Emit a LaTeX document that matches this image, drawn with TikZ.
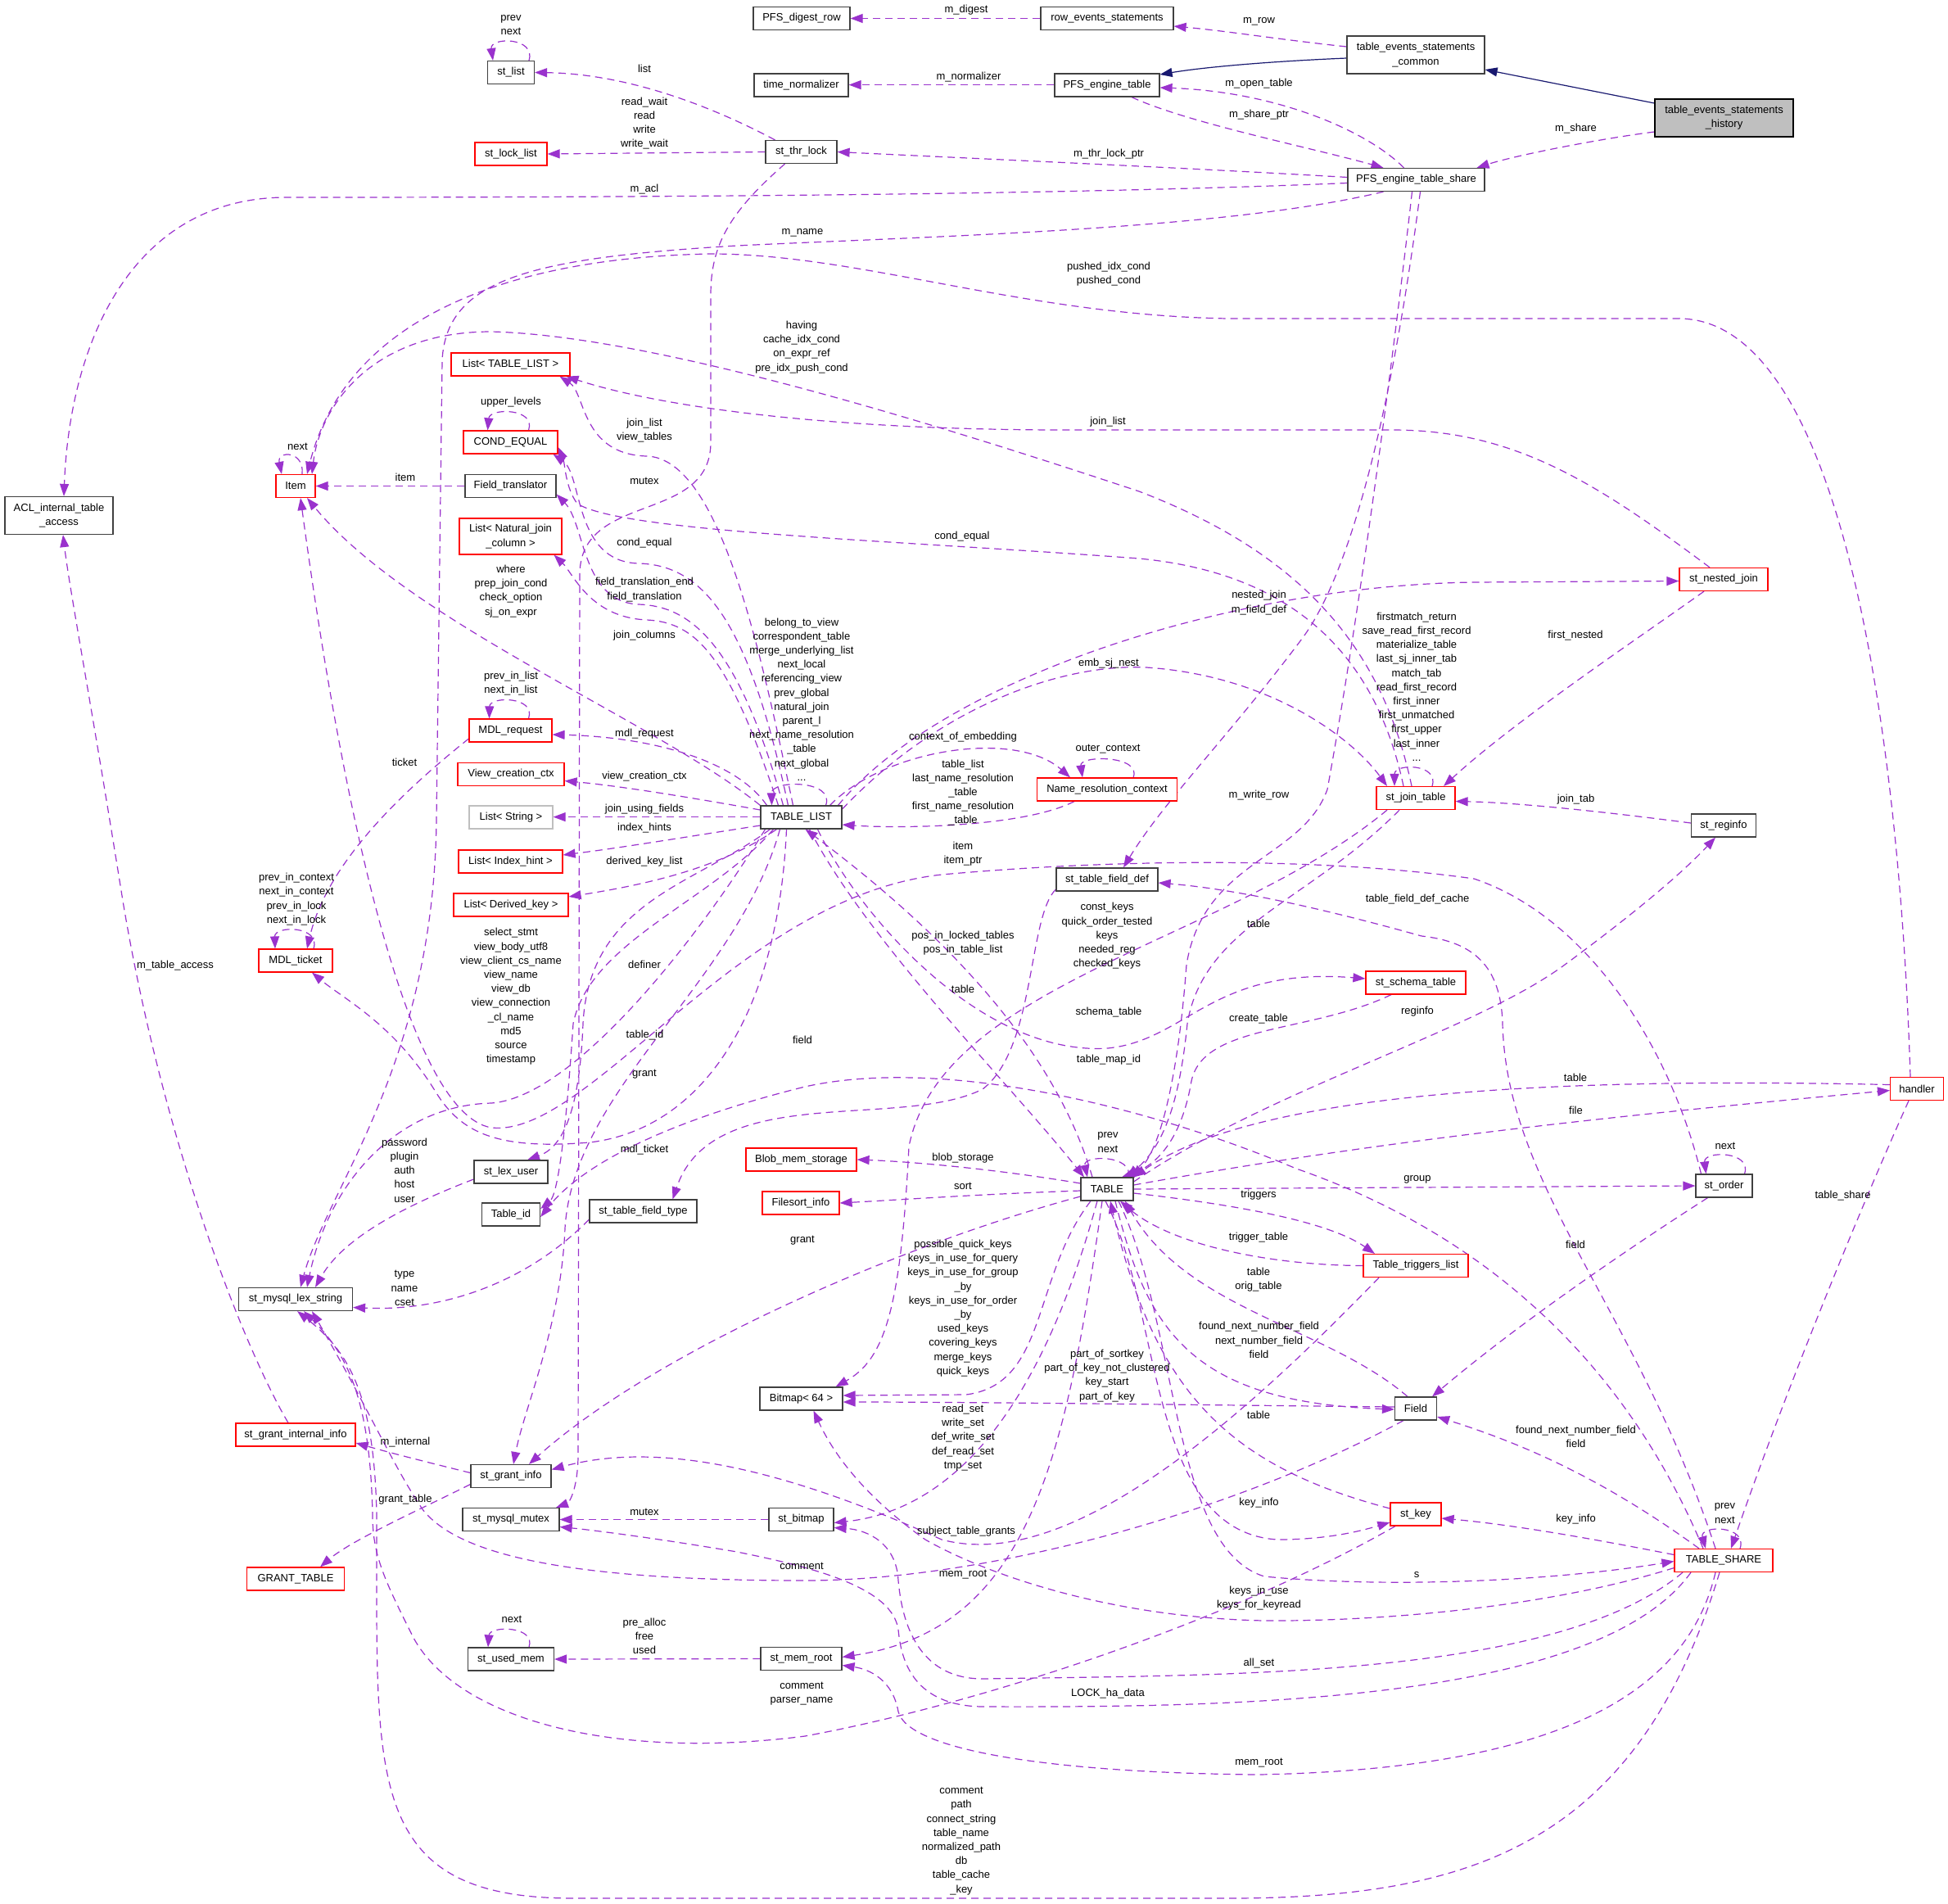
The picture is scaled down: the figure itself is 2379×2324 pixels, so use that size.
\documentclass[tikz,border=0pt]{standalone}
\usepackage{fontspec}
\setmainfont{Liberation Sans}
\usetikzlibrary{arrows.meta,backgrounds}
\definecolor{purp}{RGB}{154,50,205}
\definecolor{inhblue}{RGB}{25,25,112}
\definecolor{nodegray}{RGB}{64,64,64}
\definecolor{nodered}{RGB}{255,0,0}
\definecolor{lightgr}{RGB}{191,191,191}
\definecolor{histfill}{RGB}{191,191,191}
\newcommand\labfont{\fontsize{13}{17.2}\selectfont}
\tikzset{
  box/.style={draw=nodegray, line width=1.2pt, fill=white, minimum height=28pt, inner sep=2pt, font=\labfont},
  rbox/.style={box, draw=nodered},
  gbox/.style={box, draw=lightgr},
  ed/.style={draw=purp, line width=1.2pt, dash pattern=on 9pt off 6pt, -{Triangle[length=15pt,width=11pt]}},
  inh/.style={draw=inhblue, line width=1.2pt, -{Triangle[length=15pt,width=11pt]}},
  lbl/.style={font=\labfont, align=center, inner sep=0pt},
}
\begin{document}
\begin{tikzpicture}[x=1pt,y=-1pt]
\useasboundingbox (0,0) rectangle (2379,2324);
\begin{pgfonlayer}{background}
\fill[white] (0,0) rectangle (2379,2324);
\end{pgfonlayer}
% ---------------- nodes
\node[box,minimum width=118pt] (digest) at (979,22.5) {PFS\_digest\_row};
\node[box,minimum width=162pt] (rowev) at (1352,22.5) {row\_events\_statements};
\node[box,minimum width=168pt,minimum height=46pt,align=center] (common) at (1729,67) {table\_events\_statements\\\_common};
\node[box,fill=histfill,draw=black,minimum width=169pt,minimum height=46pt,align=center] (history) at (2105.5,144) {table\_events\_statements\\\_history};
\node[box,minimum width=115pt] (timenorm) at (978.5,104) {time\_normalizer};
\node[box,minimum width=128pt] (PFSet) at (1352,104) {PFS\_engine\_table};
\node[box,minimum width=57pt] (stlist) at (624,88.5) {st\_list};
\node[rbox,minimum width=88pt] (locklist) at (624,188) {st\_lock\_list};
\node[box,minimum width=87pt] (thrlock) at (978.5,185.5) {st\_thr\_lock};
\node[box,minimum width=167pt] (share) at (1729.5,219.5) {PFS\_engine\_table\_share};
\node[box,minimum width=132pt,minimum height=46pt,align=center] (ACL) at (72,629.5) {ACL\_internal\_table\\\_access};
\node[rbox,minimum width=48pt] (Item) at (361,593.5) {Item};
\node[rbox,minimum width=145pt] (ListTL) at (623.5,445) {List< TABLE\_LIST >};
\node[rbox,minimum width=115pt] (condeq) at (623.5,540) {COND\_EQUAL};
\node[box,minimum width=111pt] (fieldtr) at (623.5,593.5) {Field\_translator};
\node[rbox,minimum width=125pt,minimum height=44pt,align=center] (listnat) at (623.5,655) {List< Natural\_join\\\_column >};
\node[rbox,minimum width=101pt] (mdlreq) at (623.5,892) {MDL\_request};
\node[rbox,minimum width=130pt] (viewctx) at (624,945.5) {View\_creation\_ctx};
\node[gbox,minimum width=102pt] (liststr) at (624,998) {List< String >};
\node[rbox,minimum width=127pt] (listidx) at (623.5,1052) {List< Index\_hint >};
\node[rbox,minimum width=140pt] (listdk) at (624,1105) {List< Derived\_key >};
\node[rbox,minimum width=90pt] (mdlticket) at (361,1173) {MDL\_ticket};
\node[box,minimum width=99pt] (TL) at (978.5,998) {TABLE\_LIST};
\node[rbox,minimum width=171pt] (NRC) at (1352,964) {Name\_resolution\_context};
\node[rbox,minimum width=96pt] (jointab) at (1729,974.5) {st\_join\_table};
\node[rbox,minimum width=108pt] (nested) at (2105,707.5) {st\_nested\_join};
\node[box,minimum width=79pt] (reginfo) at (2105,1008) {st\_reginfo};
\node[box,minimum width=124pt] (tfdef) at (1352,1074) {st\_table\_field\_def};
\node[rbox,minimum width=122pt] (schema) at (1729,1200) {st\_schema\_table};
\node[rbox,minimum width=65pt] (handler) at (2341,1329.5) {handler};
\node[box,minimum width=90pt] (lexuser) at (624,1431) {st\_lex\_user};
\node[box,minimum width=71pt] (tableid) at (624,1483) {Table\_id};
\node[box,minimum width=131pt] (tftype) at (785.5,1479) {st\_table\_field\_type};
\node[rbox,minimum width=135pt] (blob) at (978.5,1416) {Blob\_mem\_storage};
\node[rbox,minimum width=94pt] (filesort) at (978,1469) {Filesort\_info};
\node[box,minimum width=64pt] (TABLE) at (1352,1452) {TABLE};
\node[box,minimum width=69pt] (order) at (2105.5,1448) {st\_order};
\node[rbox,minimum width=128pt] (TTL) at (1729,1545.5) {Table\_triggers\_list};
\node[box,minimum width=139pt] (lexstr) at (361,1586.5) {st\_mysql\_lex\_string};
\node[box,minimum width=101pt] (bitmap64) at (978.5,1708) {Bitmap< 64 >};
\node[box,minimum width=51pt] (Field) at (1729,1720) {Field};
\node[rbox,minimum width=146pt] (ginternal) at (361,1752) {st\_grant\_internal\_info};
\node[box,minimum width=98pt] (ginfo) at (624,1802.5) {st\_grant\_info};
\node[box,minimum width=118pt] (mutex) at (624,1855.5) {st\_mysql\_mutex};
\node[box,minimum width=79pt] (stbitmap) at (978.5,1855.5) {st\_bitmap};
\node[rbox,minimum width=119pt] (granttable) at (361,1928) {GRANT\_TABLE};
\node[rbox,minimum width=62pt] (stkey) at (1729,1849) {st\_key};
\node[rbox,minimum width=120pt] (TS) at (2105,1905.5) {TABLE\_SHARE};
\node[box,minimum width=105pt] (usedmem) at (624,2026) {st\_used\_mem};
\node[box,minimum width=99pt] (memroot) at (978.5,2025.5) {st\_mem\_root};
% ---------------- edges
\begin{pgfonlayer}{background}
\draw[ed] (rowev.west) -- (digest.east);
\draw[ed] ([yshift=10pt]common.west) .. controls (1560,48) and (1500,38) .. ([yshift=-9.5pt]rowev.east);
\draw[inh] ([yshift=-4pt]common.west) .. controls (1550,75) and (1470,82) .. ([yshift=13pt]PFSet.east);
\draw[inh] ([yshift=18pt]history.west) -- ([yshift=-18pt]common.east);
\draw[ed] ([yshift=-17pt]history.west) .. controls (1950,170) and (1850,190) .. ([xshift=74pt]share.north);
\draw[ed] ([yshift=0.4pt]PFSet.west) -- ([yshift=0.4pt]timenorm.east);
\draw[ed] ([xshift=-15pt]share.north) .. controls (1670,160) and (1560,112) .. ([yshift=-3pt]PFSet.east);
\draw[ed] ([xshift=30pt]PFSet.south) .. controls (1450,150) and (1600,180) .. ([xshift=-40pt]share.north);
\draw[ed] ([xshift=22pt]stlist.north) .. controls (655,45) and (598,45) .. ([xshift=-22pt]stlist.north);
\draw[ed] ([xshift=-32pt]thrlock.north) .. controls (860,125) and (760,90) .. (stlist.east);
\draw[ed] (thrlock.west) -- (locklist.east);
\draw[ed] ([yshift=3pt]share.west) .. controls (1450,205) and (1200,194) .. (thrlock.east);
\draw[ed] ([yshift=-4pt]share.west) .. controls (1300,238) and (800,241) .. (350,241) .. controls (160,241) and (85,420) .. ([xshift=6pt]ACL.north);
\draw[ed] ([xshift=-40pt]share.south) .. controls (1500,280) and (1150,288) .. (900,300) .. controls (650,315) and (545,340) .. (540,440) -- (533,1000) .. controls (530,1300) and (400,1450) .. ([xshift=6pt]lexstr.north);
\draw[ed] ([xshift=-8pt]handler.north) .. controls (2320,900) and (2250,389) .. (2050,389) -- (1500,389) .. controls (1250,385) and (1050,310) .. (868,310) .. controls (600,315) and (420,400) .. ([xshift=14pt]Item.north);
\draw[ed] ([xshift=-5pt]jointab.north) .. controls (1690,800) and (1600,680) .. (1391,600) .. controls (1150,520) and (800,410) .. (600,405) .. controls (450,405) and (390,500) .. ([xshift=20pt]Item.north);
\draw[ed] ([xshift=-10pt]TL.north) .. controls (930,800) and (880,560) .. (790,557) .. controls (710,555) and (715,480) .. ([xshift=60pt]ListTL.south);
\draw[ed] ([xshift=-17pt]nested.north) .. controls (1950,590) and (1850,525) .. (1700,525) -- (1300,525) .. controls (1000,525) and (800,495) .. ([xshift=68pt]ListTL.south);
\draw[ed] ([xshift=-16pt]TL.north) .. controls (915,760) and (860,690) .. (780,688) .. controls (700,686) and (712,580) .. ([xshift=52pt]condeq.south);
\draw[ed] ([xshift=-15pt]jointab.north) .. controls (1680,800) and (1580,700) .. (1391,682) .. controls (1100,660) and (760,650) .. (705,615) .. controls (690,595) and (690,565) .. ([yshift=-6pt]condeq.east);
\draw[ed] ([xshift=-22pt]TL.north) .. controls (900,780) and (840,740) .. (780,738) .. controls (710,735) and (715,640) .. ([yshift=-10pt]fieldtr.east);
\draw[ed] ([xshift=-28pt]TL.north) .. controls (890,800) and (850,760) .. (790,757) .. controls (720,754) and (700,700) .. ([xshift=53pt]listnat.south);
\draw[ed] (TL.north west) .. controls (800,880) and (500,760) .. ([xshift=14pt]Item.south);
\draw[ed] (fieldtr.west) -- (Item.east);
\draw[ed] ([xshift=8pt]Item.north) .. controls (372,550) and (338,550) .. ([xshift=-17pt]Item.north);
\draw[ed] ([xshift=22pt]condeq.north) .. controls (655,498) and (598,498) .. ([xshift=-28pt]condeq.north);
\draw[ed] ([xshift=22pt]mdlreq.north) .. controls (655,850) and (598,850) .. ([xshift=-26pt]mdlreq.north);
\draw[ed] ([xshift=-42pt]TL.north) .. controls (900,930) and (800,900) .. ([yshift=-5pt]mdlreq.east);
\draw[ed] ([yshift=9pt]TL.west) .. controls (850,975) and (760,960) .. ([yshift=-8pt]viewctx.east);
\draw[ed] ([yshift=0.4pt]TL.west) -- ([yshift=0.4pt]liststr.east);
\draw[ed] ([yshift=-10pt]TL.west) .. controls (850,1020) and (760,1035) .. ([yshift=8pt]listidx.east);
\draw[ed] ([xshift=-30pt]TL.south) .. controls (880,1060) and (790,1080) .. ([yshift=10pt]listdk.east);
\draw[ed] ([xshift=30pt]TL.north) .. controls (1020,952) and (942,952) .. ([xshift=-36pt]TL.north);
\draw[ed] ([xshift=35pt]TL.north) .. controls (1080,915) and (1240,890) .. ([xshift=-45pt]NRC.north);
\draw[ed] ([xshift=32pt]NRC.north) .. controls (1395,922) and (1318,922) .. ([xshift=-30pt]NRC.north);
\draw[ed] ([xshift=-40pt]NRC.south) .. controls (1250,1010) and (1100,1012) .. ([yshift=-9pt]TL.east);
\draw[ed] ([xshift=45pt]TL.north) .. controls (1150,830) and (1500,715) .. (1800,711) -- ([yshift=-2pt]nested.west);
\draw[ed] ([yshift=10pt]TL.east) .. controls (1150,860) and (1300,810) .. (1400,815) .. controls (1550,825) and (1650,900) .. ([xshift=-35pt]jointab.north);
\draw[ed] ([xshift=20pt]jointab.north) .. controls (1758,932) and (1703,932) .. ([xshift=-26pt]jointab.north);
\draw[ed] ([xshift=-24pt]nested.south) .. controls (2000,780) and (1850,880) .. ([xshift=34pt]jointab.north);
\draw[ed] ([yshift=3pt]reginfo.west) .. controls (1950,990) and (1850,980) .. ([yshift=-4pt]jointab.east);
\draw[ed] ([xshift=-5pt]share.south) .. controls (1700,450) and (1660,750) .. (1621,964) .. controls (1590,1050) and (1470,1050) .. (1449,1178) .. controls (1440,1300) and (1420,1400) .. ([xshift=30pt]TABLE.north);
\draw[ed] ([xshift=5pt]share.south) .. controls (1700,500) and (1650,700) .. (1590,780) .. controls (1500,900) and (1420,980) .. ([xshift=20pt]tfdef.north);
\draw[ed] ([xshift=-20pt]jointab.south) .. controls (1600,1100) and (1470,1130) .. (1450,1250) .. controls (1440,1350) and (1420,1400) .. ([xshift=24pt]TABLE.north);
\draw[ed] ([xshift=-35pt]jointab.south) .. controls (1500,1150) and (1150,1200) .. (1110,1400) .. controls (1100,1600) and (1080,1660) .. ([xshift=42pt]bitmap64.north);
\draw[ed] ([xshift=20pt]TL.south) .. controls (1050,1120) and (1200,1290) .. (1353,1280) .. controls (1450,1270) and (1480,1180) .. ([yshift=5pt]schema.west);
\draw[ed] ([xshift=-30pt]schema.south) .. controls (1600,1262) and (1470,1250) .. (1455,1320) .. controls (1445,1380) and (1420,1420) .. ([xshift=18pt]TABLE.north);
\draw[ed] ([xshift=10pt]TL.south) .. controls (1060,1150) and (1230,1320) .. ([xshift=-28pt]TABLE.north);
\draw[ed] ([xshift=-18pt]TABLE.north) .. controls (1280,1250) and (1100,1100) .. ([xshift=5pt]TL.south);
\draw[ed] ([xshift=26pt]TABLE.north) .. controls (1385,1410) and (1322,1410) .. ([xshift=-24pt]TABLE.north);
\draw[ed] ([yshift=5pt]handler.west) .. controls (2000,1318) and (1550,1320) .. (TABLE.north east);
\draw[ed] ([yshift=5pt]TABLE.east) .. controls (1700,1390) and (2000,1360) .. ([yshift=-2pt]handler.west);
\draw[ed] ([yshift=9pt]TABLE.east) .. controls (1550,1330) and (1800,1260) .. (1911,1178) .. controls (2010,1105) and (2060,1060) .. ([xshift=-10pt]reginfo.south);
\draw[ed] (TABLE.east) -- (order.west);
\draw[ed] ([yshift=-5pt]TABLE.east) .. controls (1500,1470) and (1620,1490) .. ([xshift=-50pt]TTL.north);
\draw[ed] (TTL.west) .. controls (1550,1545) and (1430,1520) .. ([xshift=16pt]TABLE.south);
\draw[ed] ([xshift=-45pt]TTL.south) .. controls (1500,1750) and (1300,1920) .. (1150,1880) .. controls (950,1790) and (800,1760) .. ([yshift=8pt]ginfo.east);
\draw[ed] ([yshift=7pt]TABLE.west) .. controls (1200,1425) and (1100,1418) .. (blob.east);
\draw[ed] ([yshift=-2pt]TABLE.west) .. controls (1200,1458) and (1100,1465) .. (filesort.east);
\draw[ed] ([yshift=-9pt]TABLE.west) .. controls (1100,1520) and (800,1650) .. ([xshift=22pt]ginfo.north);
\draw[ed] ([xshift=-20pt]TABLE.south) .. controls (1260,1560) and (1280,1690) .. (1180,1703) -- ([yshift=4pt]bitmap64.east);
\draw[ed] ([xshift=-12pt]TABLE.south) .. controls (1290,1650) and (1200,1840) .. ([yshift=-4pt]stbitmap.east);
\draw[ed] ([xshift=-6pt]TABLE.south) .. controls (1300,1800) and (1250,1990) .. ([yshift=2pt]memroot.east);
\draw[ed] ([xshift=-10pt]Field.north) .. controls (1620,1620) and (1450,1600) .. ([xshift=22pt]TABLE.south);
\draw[ed] ([xshift=10pt]TABLE.south) .. controls (1400,1620) and (1450,1712) .. ([yshift=-1pt]Field.west);
\draw[ed] ([yshift=2pt]Field.west) .. controls (1500,1716) and (1200,1712) .. ([yshift=-4pt]bitmap64.east);
\draw[ed] ([yshift=7pt]stkey.west) .. controls (1500,1790) and (1410,1700) .. ([xshift=4pt]TABLE.south);
\draw[ed] ([xshift=-2pt]TABLE.south) .. controls (1420,1600) and (1400,1870) .. (1560,1880) .. controls (1620,1880) and (1660,1870) .. ([yshift=-10pt]stkey.west);
\draw[ed] ([xshift=-15pt]Field.south) .. controls (1500,1850) and (1200,1930) .. (983,1930) .. controls (700,1930) and (560,1900) .. (516,1843) .. controls (480,1790) and (450,1720) .. ([xshift=20pt]lexstr.south);
\draw[ed] ([xshift=-25pt]stkey.south) .. controls (1500,1980) and (1200,2080) .. (983,2120) .. controls (750,2150) and (560,2100) .. (505,2000) .. controls (470,1930) and (455,1900) .. (455,1850) .. controls (452,1700) and (420,1650) .. ([xshift=10pt]lexstr.south);
\draw[ed] ([xshift=-5pt]TS.south) .. controls (2000,2250) and (1800,2318) .. (1500,2318) -- (700,2318) .. controls (470,2318) and (460,2200) .. (460,1950) -- (460,1850) .. controls (457,1700) and (425,1650) .. ([xshift=2pt]lexstr.south);
\draw[ed] ([yshift=7pt]TS.west) .. controls (1950,1880) and (1850,1862) .. ([yshift=-5pt]stkey.east);
\draw[ed] ([xshift=-30pt]TS.north) .. controls (1950,1800) and (1850,1760) .. ([yshift=-10pt]Field.east);
\draw[ed] ([xshift=14pt]TABLE.south) .. controls (1440,1620) and (1430,1890) .. (1544,1925) .. controls (1700,1940) and (1900,1930) .. ([yshift=-1pt]TS.west);
\draw[ed] ([xshift=20pt]TS.north) .. controls (2135,1862) and (2075,1862) .. ([xshift=-22pt]TS.north);
\draw[ed] ([xshift=-10pt]handler.south) .. controls (2270,1480) and (2180,1700) .. ([xshift=9pt]TS.north);
\draw[ed] ([xshift=-10pt]TS.north) .. controls (2000,1600) and (1840,1450) .. (1835,1250) .. controls (1833,1180) and (1800,1150) .. (1736,1143) .. controls (1600,1105) and (1500,1085) .. ([yshift=-4pt]tfdef.east);
\draw[ed] ([xshift=-20pt]order.south) .. controls (1980,1530) and (1850,1620) .. ([xshift=20pt]Field.north);
\draw[ed] ([xshift=25pt]order.north) .. controls (2140,1405) and (2080,1405) .. ([xshift=-22pt]order.north);
\draw[ed] ([xshift=-28pt]order.north) .. controls (2040,1280) and (1940,1120) .. (1800,1073) .. controls (1600,1045) and (1350,1050) .. (1150,1068) .. controls (900,1095) and (720,1390) .. (600,1377) .. controls (500,1360) and (420,1000) .. ([xshift=6pt]Item.south);
\draw[ed] ([xshift=-25pt]TS.north) .. controls (2000,1700) and (1850,1520) .. (1583,1427) .. controls (1400,1350) and (1150,1290) .. (983,1327) .. controls (850,1360) and (720,1410) .. ([yshift=-3pt]tableid.east);
\draw[ed] ([yshift=-9pt]TS.west) .. controls (1900,1960) and (1700,1980) .. (1544,1979) .. controls (1350,1975) and (1200,1920) .. (1130,1880) .. controls (1060,1830) and (1020,1780) .. ([xshift=15pt]bitmap64.south);
\draw[ed] ([xshift=-50pt]TS.south) .. controls (1900,2050) and (1500,2045) .. (1200,2050) .. controls (1110,2050) and (1100,1960) .. (1097,1930) .. controls (1095,1885) and (1060,1868) .. ([yshift=-10pt]stbitmap.east);
\draw[ed] ([xshift=-40pt]TS.south) .. controls (1950,2080) and (1500,2085) .. (1200,2084) .. controls (1110,2083) and (1100,2020) .. (1097,1990) .. controls (1090,1940) and (1000,1915) .. (900,1895) .. controls (800,1878) and (720,1868) .. ([yshift=-9pt]mutex.east);
\draw[ed] ([xshift=-10pt]TS.south) .. controls (2060,2070) and (1900,2160) .. (1537,2167) .. controls (1300,2165) and (1110,2140) .. (1097,2090) .. controls (1090,2050) and (1060,2038) .. ([yshift=-8pt]memroot.east);
\draw[ed] (stbitmap.west) -- (mutex.east);
\draw[ed] (memroot.west) -- (usedmem.east);
\draw[ed] ([xshift=22pt]usedmem.north) .. controls (655,1985) and (598,1985) .. ([xshift=-28pt]usedmem.north);
\draw[ed] ([xshift=-20pt]thrlock.south) .. controls (890,260) and (868,300) .. (868,360) -- (868,540) .. controls (868,640) and (710,600) .. (708,700) -- (706,1780) .. controls (705,1820) and (695,1835) .. ([xshift=55pt]mutex.north);
\draw[ed] ([xshift=-38pt]TL.south) .. controls (850,1080) and (720,1100) .. (712,1250) .. controls (708,1350) and (690,1400) .. ([xshift=20pt]lexuser.north);
\draw[ed] ([xshift=-34pt]TL.south) .. controls (870,1100) and (720,1150) .. (700,1250) .. controls (690,1400) and (680,1460) .. ([yshift=7pt]tableid.east);
\draw[ed] ([xshift=-26pt]TL.south) .. controls (900,1200) and (700,1330) .. (690,1500) .. controls (685,1620) and (640,1720) .. ([xshift=3pt]ginfo.north);
\draw[ed] ([xshift=-18pt]TL.south) .. controls (950,1250) and (850,1380) .. (720,1395) .. controls (600,1405) and (560,1380) .. (530,1330) .. controls (480,1250) and (420,1220) .. ([xshift=20pt]mdlticket.south);
\draw[ed] ([xshift=-44pt]TL.south) .. controls (850,1150) and (700,1340) .. (600,1347) .. controls (480,1350) and (400,1450) .. ([xshift=14pt]lexstr.north);
\draw[ed] ([yshift=-10pt]mdlreq.west) .. controls (500,960) and (400,1050) .. ([xshift=14pt]mdlticket.north);
\draw[ed] ([xshift=22pt]mdlticket.north) .. controls (392,1130) and (335,1130) .. ([xshift=-25pt]mdlticket.north);
\draw[ed] ([yshift=-9pt]lexuser.west) .. controls (500,1470) and (420,1510) .. ([xshift=24pt]lexstr.north);
\draw[ed] ([yshift=-10pt]tftype.west) .. controls (650,1560) and (550,1602) .. ([yshift=-10pt]lexstr.east);
\draw[ed] ([yshift=-12pt]tfdef.west) .. controls (1255,1120) and (1265,1280) .. (1200,1330) .. controls (1100,1380) and (870,1320) .. ([xshift=36pt]tftype.north);
\draw[ed] ([xshift=-9pt]ginternal.north) .. controls (300,1650) and (200,1400) .. (150,1100) .. controls (110,850) and (85,720) .. ([xshift=5pt]ACL.south);
\draw[ed] ([yshift=4pt]ginfo.west) .. controls (520,1785) and (480,1775) .. ([yshift=-10pt]ginternal.east);
\draw[ed] ([yshift=-10pt]ginfo.west) .. controls (520,1840) and (430,1880) .. ([xshift=30pt]granttable.north);
\end{pgfonlayer}
% ---------------- labels
\node[lbl] (l1) at (1180,12) {m\_digest};
\node[lbl] (l2) at (1537.5,26) {m\_row};
\node[lbl] (l3) at (1183,94.5) {m\_normalizer};
\node[lbl] (l4) at (1537.5,102.5) {m\_open\_table};
\node[lbl] (l5) at (1537.5,140) {m\_share\_ptr};
\node[lbl] (l6) at (1924.5,157) {m\_share};
\node[lbl] (l7) at (624,30.5) {prev\\next};
\node[lbl] (l8) at (787,83.5) {list};
\node[lbl] (l9) at (787,150.5) {read\_wait\\read\\write\\write\_wait};
\node[lbl] (l10) at (1354,188.5) {m\_thr\_lock\_ptr};
\node[lbl] (l11) at (787,231) {m\_acl};
\node[lbl] (l12) at (980,284.5) {m\_name};
\node[lbl] (l13) at (1354,334.5) {pushed\_idx\_cond\\pushed\_cond};
\node[lbl] (l14) at (979,424) {having\\cache\_idx\_cond\\on\_expr\_ref\\pre\_idx\_push\_cond};
\node[lbl] (l15) at (787,525.5) {join\_list\\view\_tables};
\node[lbl] (l16) at (1353,515.5) {join\_list};
\node[lbl] (l17) at (787,663) {cond\_equal};
\node[lbl] (l18) at (1175,655) {cond\_equal};
\node[lbl] (l19) at (787,720) {field\_translation\_end\\field\_translation};
\node[lbl] (l20) at (787,776) {join\_columns};
\node[lbl] (l21) at (624,722) {where\\prep\_join\_cond\\check\_option\\sj\_on\_expr};
\node[lbl] (l22) at (495,583) {item};
\node[lbl] (l23) at (363.5,545) {next};
\node[lbl] (l24) at (624,491.5) {upper\_levels};
\node[lbl] (l25) at (624,834.5) {prev\_in\_list\\next\_in\_list};
\node[lbl] (l26) at (787,896) {mdl\_request};
\node[lbl] (l27) at (787,948) {view\_creation\_ctx};
\node[lbl] (l28) at (787,988) {join\_using\_fields};
\node[lbl] (l29) at (787,1011) {index\_hints};
\node[lbl] (l30) at (787,1052) {derived\_key\_list};
\node[lbl] (l31) at (979,854) {belong\_to\_view\\correspondent\_table\\merge\_underlying\_list\\next\_local\\referencing\_view\\prev\_global\\natural\_join\\parent\_l\\next\_name\_resolution\\\_table\\next\_global\\...};
\node[lbl] (l32) at (1176,900) {context\_of\_embedding};
\node[lbl] (l33) at (1353,915) {outer\_context};
\node[lbl] (l34) at (1176,968) {table\_list\\last\_name\_resolution\\\_table\\first\_name\_resolution\\\_table};
\node[lbl] (l35) at (1537.5,727) {nested\_join};
\node[lbl] (l36) at (1537.5,745) {m\_field\_def};
\node[lbl] (l37) at (1354,810) {emb\_sj\_nest};
\node[lbl] (l38) at (1730,838.5) {firstmatch\_return\\save\_read\_first\_record\\materialize\_table\\last\_sj\_inner\_tab\\match\_tab\\read\_first\_record\\first\_inner\\first\_unmatched\\first\_upper\\last\_inner\\...};
\node[lbl] (l39) at (1924,776) {first\_nested};
\node[lbl] (l40) at (1924.5,976.5) {join\_tab};
\node[lbl] (l41) at (1537.5,971.5) {m\_write\_row};
\node[lbl] (l42) at (1537,1128) {table};
\node[lbl] (l43) at (1352,1143) {const\_keys\\quick\_order\_tested\\keys\\needed\_reg\\checked\_keys};
\node[lbl] (l44) at (1354,1236) {schema\_table};
\node[lbl] (l45) at (1537,1244) {create\_table};
\node[lbl] (l46) at (1176,1208) {table};
\node[lbl] (l47) at (1176,1152) {pos\_in\_locked\_tables\\pos\_in\_table\_list};
\node[lbl] (l48) at (1353,1395) {prev\\next};
\node[lbl] (l49) at (1924,1316) {table};
\node[lbl] (l50) at (1924.5,1356) {file};
\node[lbl] (l51) at (1731,1235) {reginfo};
\node[lbl] (l52) at (1731,1440) {group};
\node[lbl] (l53) at (1537,1459.5) {triggers};
\node[lbl] (l54) at (1537,1511) {trigger\_table};
\node[lbl] (l55) at (1180,1870) {subject\_table\_grants};
\node[lbl] (l56) at (1176,1414) {blob\_storage};
\node[lbl] (l57) at (1176,1448) {sort};
\node[lbl] (l58) at (980,1515) {grant};
\node[lbl] (l59) at (1176,1597.5) {possible\_quick\_keys\\keys\_in\_use\_for\_query\\keys\_in\_use\_for\_group\\\_by\\keys\_in\_use\_for\_order\\\_by\\used\_keys\\covering\_keys\\merge\_keys\\quick\_keys};
\node[lbl] (l60) at (1176,1755.5) {read\_set\\write\_set\\def\_write\_set\\def\_read\_set\\tmp\_set};
\node[lbl] (l61) at (1176,1923) {mem\_root};
\node[lbl] (l62) at (1537,1562.5) {table\\orig\_table};
\node[lbl] (l63) at (1537.5,1636.5) {found\_next\_number\_field\\next\_number\_field\\field};
\node[lbl] (l64) at (1352,1680) {part\_of\_sortkey\\part\_of\_key\_not\_clustered\\key\_start\\part\_of\_key};
\node[lbl] (l65) at (1537,1728) {table};
\node[lbl] (l66) at (1537.5,1835) {key\_info};
\node[lbl] (l67) at (979,1912) {comment};
\node[lbl] (l68) at (979,2068) {comment\\parser\_name};
\node[lbl] (l69) at (1174,2248) {comment\\path\\connect\_string\\table\_name\\normalized\_path\\db\\table\_cache\\\_key};
\node[lbl] (l70) at (1924.5,1855) {key\_info};
\node[lbl] (l71) at (1924.5,1754.5) {found\_next\_number\_field\\field};
\node[lbl] (l72) at (1730,1923) {s};
\node[lbl] (l73) at (2106.5,1848) {prev\\next};
\node[lbl] (l74) at (2250.5,1460) {table\_share};
\node[lbl] (l75) at (1731,1098) {table\_field\_def\_cache};
\node[lbl] (l76) at (1924,1520) {field};
\node[lbl] (l77) at (2107,1399) {next};
\node[lbl] (l78) at (1176,1043) {item\\item\_ptr};
\node[lbl] (l79) at (1354,1294) {table\_map\_id};
\node[lbl] (l80) at (1537.5,1952) {keys\_in\_use\\keys\_for\_keyread};
\node[lbl] (l81) at (1537.5,2030.7) {all\_set};
\node[lbl] (l82) at (1353,2068) {LOCK\_ha\_data};
\node[lbl] (l83) at (1537.5,2152.5) {mem\_root};
\node[lbl] (l84) at (787,1846.5) {mutex};
\node[lbl] (l85) at (787,1998) {pre\_alloc\\free\\used};
\node[lbl] (l86) at (625,1977) {next};
\node[lbl] (l87) at (787,587) {mutex};
\node[lbl] (l88) at (787,1178) {definer};
\node[lbl] (l89) at (787.5,1264) {table\_id};
\node[lbl] (l90) at (787,1312) {grant};
\node[lbl] (l91) at (787,1404) {mdl\_ticket};
\node[lbl] (l92) at (624,1217) {select\_stmt\\view\_body\_utf8\\view\_client\_cs\_name\\view\_name\\view\_db\\view\_connection\\\_cl\_name\\md5\\source\\timestamp};
\node[lbl] (l93) at (494,931) {ticket};
\node[lbl] (l94) at (362,1098) {prev\_in\_context\\next\_in\_context\\prev\_in\_lock\\next\_in\_lock};
\node[lbl] (l95) at (494,1429) {password\\plugin\\auth\\host\\user};
\node[lbl] (l96) at (494,1573) {type\\name\\cset};
\node[lbl] (l97) at (980,1270) {field};
\node[lbl] (l98) at (214,1179.5) {m\_table\_access};
\node[lbl] (l99) at (495,1761) {m\_internal};
\node[lbl] (l100) at (495,1831.4) {grant\_table};
\end{tikzpicture}
\end{document}
